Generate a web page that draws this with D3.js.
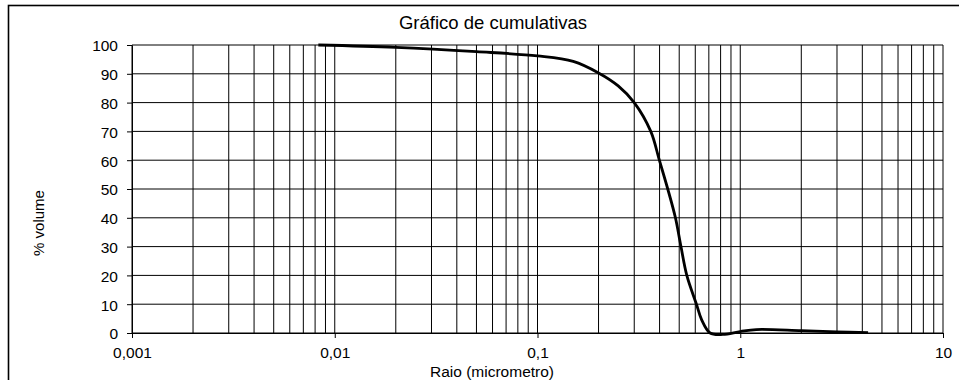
<!DOCTYPE html>
<html>
<head>
<meta charset="utf-8">
<script src="https://cdn.jsdelivr.net/npm/d3@7/dist/d3.min.js"></script>
<style>
  html, body { margin: 0; padding: 0; background: #fff; }
  svg { display: block; font-family: Arial, "Liberation Sans", sans-serif; }
</style>
</head>
<body>
<svg id="chart" width="959" height="380"></svg>
<script>
// Cumulative pore-volume curve: radius (µm) against cumulative % volume
const radius = [0.0083, 0.02, 0.05, 0.1, 0.15, 0.2, 0.25, 0.3, 0.362, 0.399, 0.439,
                0.479, 0.51, 0.545, 0.608, 0.646, 0.71, 0.82, 1.0, 1.2, 2.0, 3.0, 4.27];
const volume = [100, 99.2, 97.7, 96.2, 94.3, 90.3, 85.8, 80, 70, 60, 50,
                40, 30, 20, 10, 4.5, 0, -0.5, 0.5, 1.2, 0.8, 0.4, 0.1];

const xTickValues = [0.001, 0.01, 0.1, 1, 10];
const xTickLabels = ["0,001", "0,01", "0,1", "1", "10"];
const yTickValues = [0, 10, 20, 30, 40, 50, 60, 70, 80, 90, 100];

const titleText = "Gráfico de cumulativas";
const xTitleText = "Raio (micrometro)";
const yTitleText = "% volume";

const svg = d3.select("#chart");
const plotLeft = 132, plotRight = 943, plotTop = 45, plotBottom = 333;

// outer chart frame
svg.append("rect")
  .attr("x", 8.5).attr("y", 5.5)
  .attr("width", 1000).attr("height", 400)
  .attr("fill", "none").attr("stroke", "#000").attr("stroke-width", 1.6);

const x = d3.scaleLog().domain([0.001, 10]).range([plotLeft, plotRight]);
const y = d3.scaleLinear().domain([0, 100]).range([plotBottom, plotTop]);

// minor/major log gridlines: 1..9 per decade
const gridX = [];
xTickValues.slice(0, -1).forEach(d => { for (let m = 1; m <= 9; m++) gridX.push(m * d); });
gridX.push(10);

const grid = svg.append("g").attr("class", "grid");
grid.selectAll("line.v").data(gridX).join("line")
  .attr("class", "v")
  .attr("x1", d => x(d)).attr("x2", d => x(d))
  .attr("y1", plotTop).attr("y2", plotBottom)
  .attr("stroke", "#000").attr("stroke-width", 1);
grid.selectAll("line.h").data(yTickValues).join("line")
  .attr("class", "h")
  .attr("x1", plotLeft).attr("x2", plotRight)
  .attr("y1", d => y(d)).attr("y2", d => y(d))
  .attr("stroke", "#000").attr("stroke-width", 1);

// axes
const yAxis = svg.append("g")
  .attr("transform", `translate(${plotLeft},0)`)
  .call(d3.axisLeft(y).tickValues(yTickValues).tickSize(5).tickPadding(9).tickSizeOuter(0));
const xAxis = svg.append("g")
  .attr("transform", `translate(0,${plotBottom})`)
  .call(d3.axisBottom(x).tickValues(xTickValues)
    .tickFormat((d, i) => xTickLabels[i]).tickSize(5).tickPadding(9).tickSizeOuter(0));

[xAxis, yAxis].forEach(g => {
  g.selectAll("path.domain").attr("stroke", "#000").attr("stroke-width", 1);
  g.selectAll(".tick line").attr("stroke", "#000");
  g.selectAll(".tick text")
    .attr("fill", "#000")
    .style("font-size", "15.5px")
    .style("font-family", 'Arial, "Liberation Sans", sans-serif');
});
yAxis.selectAll(".tick text").attr("dy", "0.38em");

// data curve (smoothed)
const pts = radius.map((r, i) => [r, volume[i]]);
const line = d3.line()
  .x(d => x(d[0]))
  .y(d => y(d[1]))
  .curve(d3.curveCatmullRom.alpha(0.5));

svg.append("path")
  .datum(pts)
  .attr("d", line)
  .attr("fill", "none")
  .attr("stroke", "#000")
  .attr("stroke-width", 2.8)
  .attr("stroke-linejoin", "round")
  .attr("stroke-linecap", "butt");

// titles
svg.append("text")
  .attr("x", 493).attr("y", 28.5)
  .attr("text-anchor", "middle")
  .style("font-size", "18.5px")
  .text(titleText);

svg.append("text")
  .attr("x", 492).attr("y", 377)
  .attr("text-anchor", "middle")
  .style("font-size", "15.5px")
  .text(xTitleText);

svg.append("text")
  .attr("transform", "translate(44,223) rotate(-90)")
  .attr("text-anchor", "middle")
  .style("font-size", "15px")
  .text(yTitleText);
</script>
</body>
</html>
